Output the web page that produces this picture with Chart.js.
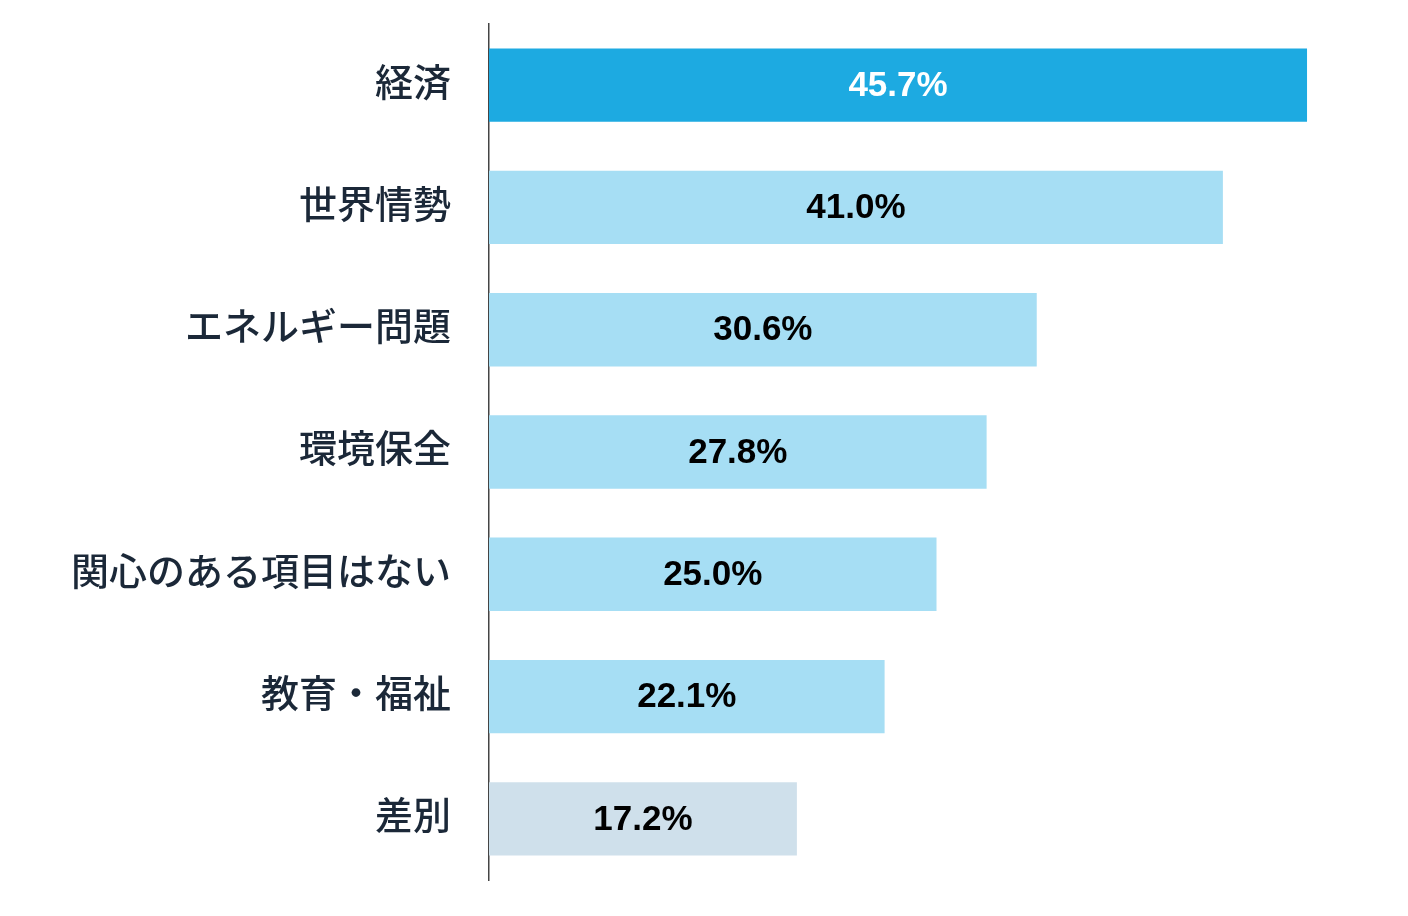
<!DOCTYPE html>
<html><head><meta charset="utf-8">
<script src="https://cdn.jsdelivr.net/npm/chart.js@4"></script>
<style>html,body{margin:0;padding:0;background:#fff;}#wrap{width:1408px;height:916px;}</style>
</head><body><div id="wrap"><canvas id="c" width="1408" height="916"></canvas></div>
<script>
const categories = ["経済","世界情勢","エネルギー問題","環境保全","関心のある項目はない","教育・福祉","差別"];
const values = [45.7, 41.0, 30.6, 27.8, 25.0, 22.1, 17.2];
const barColors = ["#1DAAE1","#A6DEF4","#A6DEF4","#A6DEF4","#A6DEF4","#A6DEF4","#CFE0EB"];
const labelColors = ["#FFFFFF","#000000","#000000","#000000","#000000","#000000","#000000"];

const valueLabels = {
  id:'valueLabels',
  afterDatasetsDraw(chart){
    const ctx = chart.ctx;
    const meta = chart.getDatasetMeta(0);
    ctx.save();
    ctx.font = 'bold 35px "Liberation Sans", Arial, sans-serif';
    ctx.textAlign = 'center';
    ctx.textBaseline = 'middle';
    meta.data.forEach((bar,i)=>{
      const x = (bar.x + bar.base)/2;
      ctx.fillStyle = labelColors[i];
      ctx.fillText(values[i].toFixed(1)+'%', x, bar.y+1);
    });
    ctx.restore();
  }
};

new Chart(document.getElementById('c'), {
  type:'bar',
  data:{labels:categories, datasets:[{data:values, backgroundColor:barColors, borderWidth:0, barPercentage:0.6, categoryPercentage:1.0}]},
  options:{
    indexAxis:'y', responsive:false, animation:false,
    devicePixelRatio:1,
    layout:{padding:{top:24,bottom:36,right:24,left:0}},
    plugins:{legend:{display:false},tooltip:{enabled:false}},
    scales:{
      x:{min:0,max:50,display:false},
      y:{
        grid:{display:false},
        border:{display:true,color:'#444',width:1.5},
        ticks:{color:'#1B2838',font:{size:38,weight:'500',family:'"Noto Sans CJK JP", sans-serif'},padding:30,labelOffset:-4},
        afterFit(s){ s.width = 489; s.paddingTop = 0; s.paddingBottom = 0; }
      }
    }
  },
  plugins:[valueLabels]
});
</script></body></html>
